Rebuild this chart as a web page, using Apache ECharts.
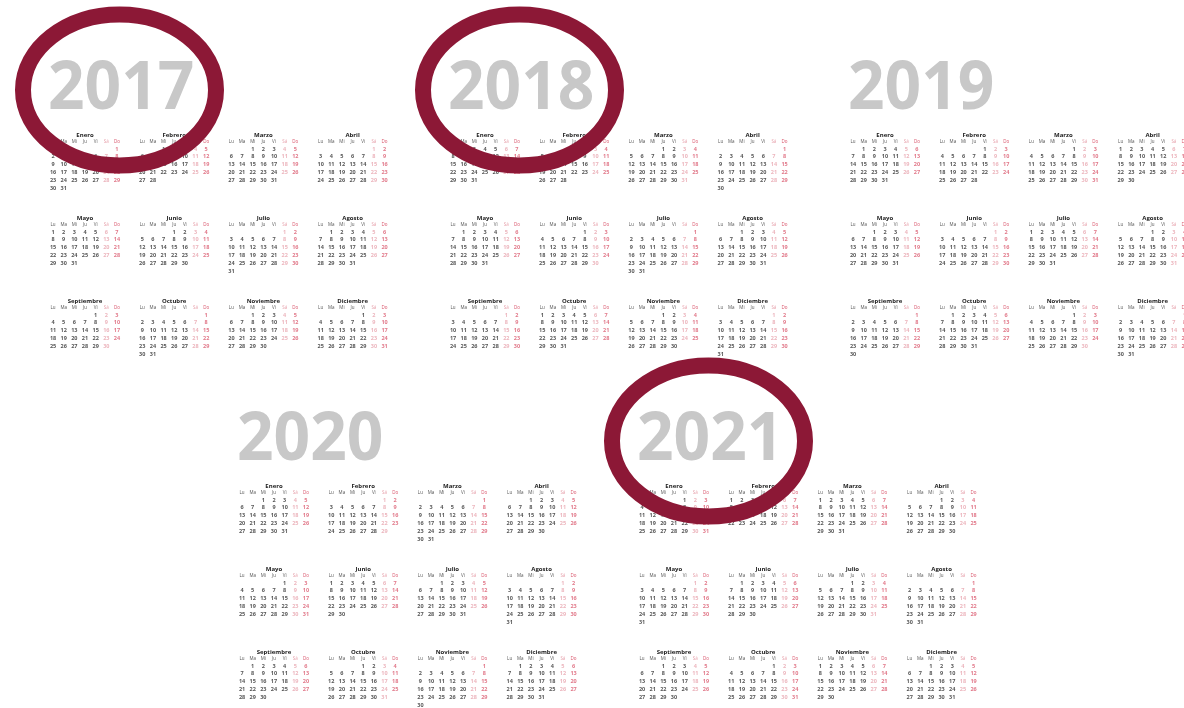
<!DOCTYPE html>
<html>
<head>
<meta charset="utf-8">
<script src="https://cdn.jsdelivr.net/npm/echarts@6/dist/echarts.min.js"></script>
<style>
html,body{margin:0;padding:0;background:#fff;}
#chart{width:1184px;height:708px;}
</style>
</head>
<body>
<div id="chart"></div>
<script>
// ---------------- DATA ----------------
const years = [2017, 2018, 2019, 2020, 2021];
const circledYears = [2017, 2018, 2021];
const monthNames = ['Enero', 'Febrero', 'Marzo', 'Abril', 'Mayo', 'Junio',
  'Julio', 'Agosto', 'Septiembre', 'Octubre', 'Noviembre', 'Diciembre'];
// indexed Sunday-first, as ECharts expects; the week starts on Monday
const dayNames = ['Do', 'Lu', 'Ma', 'Mi', 'Ju', 'Vi', 'Sá'];

// ---------------- LAYOUT ----------------
const blockOrigin = {
  2017: [0, 0], 2018: [400, 0], 2019: [800, 0],
  2020: [189, 351], 2021: [589, 351]
};
const baseLeft = 47.7, baseTop = 145.2;
const monthDX = 89.2, monthDY = 83;
const cellW = 10.65, cellH = 7.8;
const FONT = 'Open Sans';
const SAT_COLOR = '#e7a3ad', SUN_COLOR = '#d9566c', TXT = '#2b2b2b';

const pad = n => (n < 10 ? '0' : '') + n;

const calendars = [];
const series = [];
const graphics = [];

years.forEach(y => {
  const [ox, oy] = blockOrigin[y];
  // big year label
  graphics.push({
    type: 'text',
    x: ox + 48, y: oy + 90,
    scaleX: 0.97,
    z: 1,
    style: {
      text: String(y),
      x: 0, y: 0,
      textAlign: 'left', textVerticalAlign: 'middle',
      font: 'bold 66px "' + FONT + '"',
      fill: '#c8c8c8'
    }
  });
  monthNames.forEach((mName, m) => {
    const col = m % 4, row = Math.floor(m / 4);
    const calIdx = calendars.length;
    calendars.push({
      orient: 'vertical',
      range: y + '-' + pad(m + 1),
      left: ox + baseLeft + col * monthDX,
      top: oy + baseTop + row * monthDY,
      cellSize: [cellW, cellH],
      splitLine: { show: false },
      itemStyle: { color: 'transparent', borderWidth: 0, borderColor: 'transparent' },
      dayLabel: {
        firstDay: 1,
        position: 'start',
        margin: 1,
        nameMap: dayNames.map((d, i) => i === 0 ? '{su|' + d + '}' : (i === 6 ? '{sa|' + d + '}' : d)),
        fontSize: 4.5,
        fontFamily: FONT,
        color: '#555',
        rich: {
          su: { color: SUN_COLOR, fontSize: 4.5, fontFamily: FONT },
          sa: { color: SAT_COLOR, fontSize: 4.5, fontFamily: FONT }
        }
      },
      monthLabel: { show: false },
      yearLabel: {
        show: true,
        position: 'top',
        margin: 6.5,
        formatter: () => mName,
        fontSize: 6,
        fontWeight: 'bold',
        fontFamily: FONT,
        color: '#222'
      }
    });
    const days = new Date(y, m + 1, 0).getDate();
    const data = [];
    for (let d = 1; d <= days; d++) {
      const wd = new Date(y, m, d).getDay();
      const c = wd === 0 ? SUN_COLOR : (wd === 6 ? SAT_COLOR : TXT);
      data.push({
        value: [y + '-' + pad(m + 1) + '-' + pad(d), d],
        label: { color: c }
      });
    }
    series.push({
      type: 'scatter',
      coordinateSystem: 'calendar',
      calendarIndex: calIdx,
      symbolSize: 1,
      silent: true,
      itemStyle: { color: 'transparent' },
      label: {
        show: true,
        position: 'inside',
        formatter: p => String(p.value[1]),
        fontSize: 5.5,
        fontFamily: FONT,
        fontWeight: 'bold'
      },
      data: data
    });
  });
});

// highlight ellipses around selected years
circledYears.forEach(y => {
  const [ox, oy] = blockOrigin[y];
  graphics.push({
    type: 'ellipse',
    z: 100,
    shape: { cx: ox + 119.5, cy: oy + 90, rx: 96.5, ry: 75.5 },
    style: { fill: 'none', stroke: '#8c1836', lineWidth: 16 }
  });
});

const chart = echarts.init(document.getElementById('chart'));
chart.setOption({
  backgroundColor: '#ffffff',
  animation: false,
  calendar: calendars,
  series: series,
  graphic: { elements: graphics }
});
</script>
</body>
</html>
